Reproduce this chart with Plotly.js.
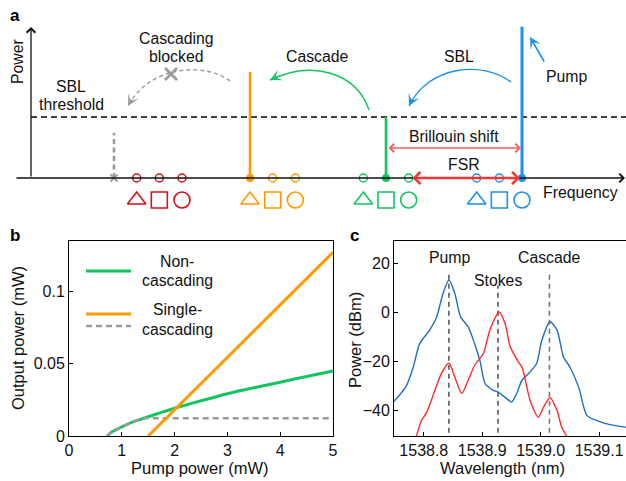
<!DOCTYPE html>
<html><head><meta charset="utf-8">
<script src="https://cdn.plot.ly/plotly-3.0.1.min.js"></script>
<style>html,body{margin:0;padding:0;background:#fff;}#chart{width:626px;height:481px;}</style>
</head><body><div id="chart"></div>
<script>
// ---------------- Panel a data (frequency in FSR units relative to pump, power relative to SBL threshold)
const laserLabels = ['Blocked', 'Cascade', 'SBL', 'Pump'];
const laserFreq = [-18, -12, -6, 0];
const laserPower = [0.74, 1.74, 1.0, 2.48];
const sblThreshold = 1.0;
const modeFreqRed = [-17, -16, -15];
const modeFreqOrange = [-11, -10];
const modeFreqGreen = [-7, -5];
const modeFreqBlue = [-2, -1];
const familyFreq = [[-17, -16, -15], [-12, -11, -10], [-7, -6, -5], [-2, -1, 0]];

// ---------------- Panel b data
const pumpNon = [0.72, 0.8, 0.9, 1.0, 1.1, 1.2, 1.3, 1.43, 1.5, 1.75, 2.0, 2.5, 3.0, 3.5, 4.0, 4.5, 5.0];
const outNon = [0, 0.0025, 0.0045, 0.0063, 0.0081, 0.0096, 0.0109, 0.0124, 0.0133, 0.0163, 0.0191, 0.0243, 0.0292, 0.0333, 0.0371, 0.0411, 0.0448];
const pumpSingleFirst = [0.72, 0.8, 0.9, 1.0, 1.1, 1.2, 1.3, 1.43, 5.0];
const outSingleFirst = [0, 0.0025, 0.0045, 0.0063, 0.0081, 0.0096, 0.0109, 0.0122, 0.0122];
const pumpSingleCasc = [1.5, 5.0];
const outSingleCasc = [0, 0.1267];
const bXTicks = [0, 1, 2, 3, 4, 5];
const bYTicks = [0, 0.05, 0.1];
const bYTickText = ['0', '0.05', '0.1'];

// ---------------- Panel c data
const wlBlue = [1538.749, 1538.770, 1538.782, 1538.793, 1538.810, 1538.822, 1538.833, 1538.843, 1538.853, 1538.863, 1538.876, 1538.887, 1538.896, 1538.905, 1538.919, 1538.927, 1538.942, 1538.950, 1538.959, 1538.968, 1538.982, 1538.993, 1539.002, 1539.016, 1539.028, 1539.039, 1539.050, 1539.065, 1539.079, 1539.096, 1539.125, 1539.150];
const pBlue = [-36.2, -30.0, -22.2, -12.7, -7.2, -1.8, 7.8, 13.2, 7.8, -1.8, -5.9, -12.7, -19.5, -29.0, -31.7, -32.4, -35.1, -36.5, -33.0, -27.6, -24.2, -20.8, -11.3, -3.8, -7.2, -18.1, -22.2, -30.4, -41.9, -44.0, -46.0, -46.8];
const wlRed = [1538.787, 1538.796, 1538.805, 1538.819, 1538.830, 1538.843, 1538.853, 1538.865, 1538.876, 1538.887, 1538.902, 1538.913, 1538.929, 1538.939, 1538.948, 1538.962, 1538.968, 1538.982, 1538.996, 1539.005, 1539.016, 1539.028, 1539.036, 1539.045];
const pRed = [-50.5, -44.0, -40.6, -31.7, -24.9, -20.6, -26.3, -33.0, -27.6, -21.5, -16.7, -7.2, 0.2, -4.5, -14.0, -20.2, -22.2, -35.8, -42.6, -38.5, -34.7, -39.9, -46.7, -50.5];
const lineLabels = ['Pump', 'Stokes', 'Cascade'];
const lineWl = [1538.843, 1538.927, 1539.015];
const lineTop = [16, 11, 16.5];
const cXTicks = [1538.8, 1538.9, 1539.0, 1539.1];
const cXTickText = ['1538.8', '1538.9', '1539.0', '1539.1'];
const cYTicks = [-40, -20, 0, 20];

// ---------------- styles
const FONT = 'Arial, "Liberation Sans", sans-serif';
const FS = 15.8;
const cRed = '#d0101a', cOrange = '#ff9a00', cGreen = '#14c45e', cBlue = '#1890f0', cGray = '#9b9b9b';
const familyColor = [cRed, cOrange, cGreen, cBlue];
const stickColor = [cGray, cOrange, cGreen, cBlue];
const familySymbols = ['triangle-up-open', 'square-open', 'circle-open'];

// layout helpers (pixel position -> panel a data coordinates / paper coordinates)
const W = 626, H = 481;
const A = (px, py) => [(px - 522) / 22.667, (178 - py) / 61];
const P = (px, py) => [px / W, 1 - py / H];

const traces = [];
traces.push({x: [A(31, 0)[0], A(626, 0)[0]], y: [sblThreshold, sblThreshold], xaxis: 'x', yaxis: 'y', mode: 'lines',
  line: {color: '#000', width: 1.4, dash: '6px,4px'}, hoverinfo: 'skip'});
laserFreq.forEach((f, i) => {
  traces.push({x: [f, f], y: [0, laserPower[i]], xaxis: 'x', yaxis: 'y', mode: 'lines', name: laserLabels[i],
    line: {color: stickColor[i], width: i === 3 ? 3 : 2.6, dash: i === 0 ? '5px,3.5px' : 'solid'}});
});
[[modeFreqRed, cRed], [modeFreqOrange, cOrange], [modeFreqGreen, cGreen], [modeFreqBlue, cBlue]].forEach(([fx, c]) => {
  traces.push({x: fx, y: fx.map(() => 0), xaxis: 'x', yaxis: 'y', mode: 'markers',
    marker: {symbol: 'circle-open', size: 8, color: c, line: {width: 1.5, color: c}}});
});
traces.push({x: laserFreq.slice(1), y: [0, 0, 0], xaxis: 'x', yaxis: 'y', mode: 'markers',
  marker: {symbol: 'circle', size: 8, color: stickColor.slice(1)}});
traces.push({x: [laserFreq[0]], y: [0], xaxis: 'x', yaxis: 'y', mode: 'markers',
  marker: {symbol: 'x-thin-open', size: 7, color: cGray, line: {width: 1.8, color: cGray}}});
traces.push({x: [A(171, 74)[0]], y: [A(171, 74)[1]], xaxis: 'x', yaxis: 'y', mode: 'markers',
  marker: {symbol: 'x-thin-open', size: 12, color: cGray, line: {width: 2.8, color: cGray}}});
familyFreq.forEach((fx, g) => {
  traces.push({x: fx, y: fx.map(() => A(0, 200)[1]), xaxis: 'x', yaxis: 'y', mode: 'markers',
    marker: {symbol: familySymbols, size: 16, color: familyColor[g], line: {width: 1.6, color: familyColor[g]}}});
});

// Panel b
traces.push({x: pumpNon, y: outNon, xaxis: 'x2', yaxis: 'y2', mode: 'lines', line: {color: cGreen, width: 3, shape: 'spline', smoothing: 0.6}});
traces.push({x: pumpSingleFirst, y: outSingleFirst, xaxis: 'x2', yaxis: 'y2', mode: 'lines', line: {color: cGray, width: 2.6, dash: '6px,4px'}});
traces.push({x: pumpSingleCasc, y: outSingleCasc, xaxis: 'x2', yaxis: 'y2', mode: 'lines', line: {color: cOrange, width: 3}});

// Panel c
lineWl.forEach((w, i) => {
  traces.push({x: [w, w], y: [-60, lineTop[i]], xaxis: 'x3', yaxis: 'y3', mode: 'lines', name: lineLabels[i],
    line: {color: i === 2 ? '#777' : '#222', width: i === 2 ? 1.6 : 1.2, dash: '5px,4px'}});
});
traces.push({x: wlBlue, y: pBlue, xaxis: 'x3', yaxis: 'y3', mode: 'lines', line: {color: '#1f6fc0', width: 1.4, shape: 'spline', smoothing: 0.7}});
traces.push({x: wlRed, y: pRed, xaxis: 'x3', yaxis: 'y3', mode: 'lines', line: {color: '#ff2b2b', width: 1.4, shape: 'spline', smoothing: 0.7}});

// ---------- annotations
const ann = [];
function txt(px, py, s, opt = {}) {
  const [x, y] = P(px, py);
  ann.push(Object.assign({x, y, xref: 'paper', yref: 'paper', text: s, showarrow: false, xanchor: 'center', yanchor: 'middle',
    font: {family: FONT, size: FS, color: '#111'}}, opt));
}
function arrow(tx, ty, hx, hy, color, width, head, size, side) {
  const [x, y] = P(hx, hy);
  ann.push({x, y, xref: 'paper', yref: 'paper', ax: tx - hx, ay: ty - hy, axref: 'pixel', ayref: 'pixel', text: '', showarrow: true,
    arrowhead: head, startarrowhead: head, arrowsize: size, startarrowsize: size, arrowwidth: width, arrowcolor: color,
    arrowside: side || 'end', standoff: 0, startstandoff: 0});
}
txt(15, 15, '<b>a</b>', {font: {family: FONT, size: 17, color: '#000'}});
txt(15, 235, '<b>b</b>', {font: {family: FONT, size: 17, color: '#000'}});
txt(354, 235, '<b>c</b>', {font: {family: FONT, size: 17, color: '#000'}});
arrow(15, 178, 626, 178, '#111', 1.3, 4, 1.3);
arrow(31, 178, 31, 27, '#111', 1.3, 4, 1.3);
txt(17, 62, 'Power', {textangle: -90});
txt(580, 193, 'Frequency');
txt(71, 86, 'SBL'); txt(71, 104, 'threshold');
txt(176, 38, 'Cascading'); txt(176, 56, 'blocked');
txt(317, 56, 'Cascade');
txt(459, 56, 'SBL');
txt(566, 77, 'Pump');
txt(454, 136, 'Brillouin shift');
txt(464, 165, 'FSR');
arrow(545, 63, 530, 37, cBlue, 1.6, 3, 1.2);
arrow(387, 148, 521, 148, '#f26060', 1.3, 4, 1.3, 'end+start');
arrow(411, 178, 520, 178, '#f23636', 2.6, 4, 0.9, 'end+start');

const shapes = [];
function curve(p0, c1, c2, p2, color, width, dash) {
  const a = [p0, c1, c2, p2].map(p => P(p[0], p[1]));
  shapes.push({type: 'path', xref: 'paper', yref: 'paper',
    path: `M${a[0][0]},${a[0][1]} C${a[1][0]},${a[1][1]} ${a[2][0]},${a[2][1]} ${a[3][0]},${a[3][1]}`,
    line: {color, width, dash: dash || 'solid'}});
  const dx = p2[0] - c2[0], dy = p2[1] - c2[1], L = Math.hypot(dx, dy);
  arrow(p2[0] - dx / L * 9, p2[1] - dy / L * 9, p2[0], p2[1], color, 1.5, 3, 1.3);
}
curve([511, 82], [482, 60], [428, 66], [409, 106], cBlue, 1.4);
curve([369, 110], [356, 72], [312, 60], [270, 80], cGreen, 1.4);
curve([230, 81], [205, 62], [150, 65], [128, 106], cGray, 1.4, '4px,3px');

function lseg(x0, x1, y, color, width, dash) {
  const a = P(x0, y), b = P(x1, y);
  shapes.push({type: 'line', xref: 'paper', yref: 'paper', x0: a[0], y0: a[1], x1: b[0], y1: b[1], line: {color, width, dash: dash || 'solid'}});
}
lseg(86, 131, 271, cGreen, 3);
lseg(86, 131, 314, cOrange, 3);
lseg(86, 131, 326, cGray, 2.6, '6px,4px');
txt(177, 261, 'Non-'); txt(177, 280, 'cascading');
txt(177, 309, 'Single-'); txt(177, 329, 'cascading');
txt(18, 338, 'Output power (mW)', {textangle: -90, font: {family: FONT, size: 16.5, color: '#111'}});
txt(200, 468, 'Pump power (mW)', {font: {family: FONT, size: 16.5, color: '#111'}});
txt(355, 340, 'Power (dBm)', {textangle: -90, font: {family: FONT, size: 16.5, color: '#111'}});
txt(503, 468, 'Wavelength (nm)', {font: {family: FONT, size: 16.5, color: '#111'}});
txt(449, 257, lineLabels[0]); txt(498, 280, lineLabels[1]); txt(549, 257, lineLabels[2]);

const axBase = {showgrid: false, zeroline: false, showline: true, linecolor: '#000', linewidth: 1,
  ticks: 'inside', ticklen: 4, tickwidth: 1, tickcolor: '#000', tickfont: {family: FONT, size: 16, color: '#111'}};

const layout = {
  width: W, height: H, margin: {l: 0, r: 0, t: 0, b: 0, pad: 0}, showlegend: false,
  paper_bgcolor: '#fff', plot_bgcolor: 'rgba(0,0,0,0)', font: {family: FONT, color: '#111'},
  xaxis: {domain: [0, 1], range: [A(0, 0)[0], A(626, 0)[0]], visible: false, fixedrange: true},
  yaxis: {domain: [1 - 210 / H, 1], range: [A(0, 210)[1], A(0, 0)[1]], visible: false, fixedrange: true},
  xaxis2: Object.assign({}, axBase, {domain: [69 / W, 333 / W], range: [0, 5], tickvals: bXTicks, mirror: true, anchor: 'y2'}),
  yaxis2: Object.assign({}, axBase, {domain: [1 - 436 / H, 1 - 241 / H], range: [0, 0.1345], tickvals: bYTicks, ticktext: bYTickText, mirror: true, anchor: 'x2'}),
  xaxis3: Object.assign({}, axBase, {domain: [394 / W, 1], range: [1538.749, 1539.146], tickvals: cXTicks, ticktext: cXTickText, mirror: true, anchor: 'y3'}),
  yaxis3: Object.assign({}, axBase, {domain: [1 - 436 / H, 1 - 241 / H], range: [-50.3, 29.1], tickvals: cYTicks, anchor: 'x3'}),
  annotations: ann, shapes: shapes
};
Plotly.newPlot('chart', traces, layout, {staticPlot: true, displayModeBar: false});
</script></body></html>
